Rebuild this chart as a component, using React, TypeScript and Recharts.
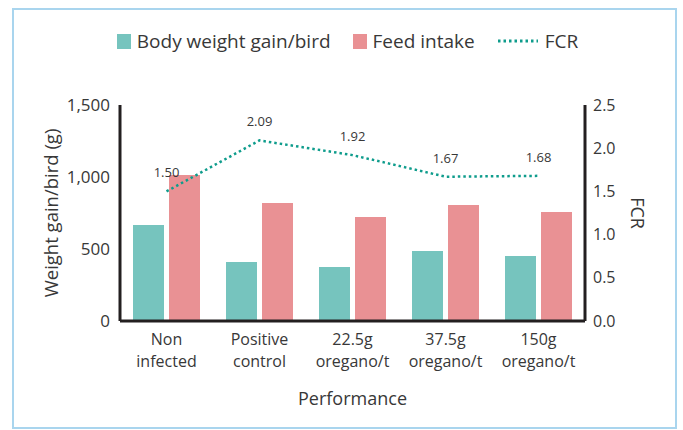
import { Bar, ComposedChart, LabelList, Legend, Line, XAxis, YAxis } from "recharts";

const categories = [
  "Non\ninfected",
  "Positive\ncontrol",
  "22.5g\noregano/t",
  "37.5g\noregano/t",
  "150g\noregano/t",
];
const bodyWeightGain = [667, 410, 375, 486, 451];
const feedIntake = [1014, 819, 722, 806, 757];
const fcr = [1.5, 2.09, 1.92, 1.67, 1.68];
const weightTicks = [0, 500, 1000, 1500];
const fcrTicks = [0, 0.5, 1, 1.5, 2, 2.5];
const legendOrder = ["Body weight gain/bird", "Feed intake", "FCR"];

const data = categories.map((name, i) => ({
  name,
  gain: bodyWeightGain[i],
  feed: feedIntake[i],
  fcr: fcr[i],
}));

const FONT = "'Open Sans', sans-serif";
const TEXT = "#383838";
const AXIS = "#231f20";
const TEAL = "#76c4be";
const PINK = "#e99194";
const LINE = "#0e9c8c";

const CategoryTick = ({ x, y, payload }: any) => {
  const lines = String(payload.value).split("\n");
  return (
    <text x={x} y={y} textAnchor="middle" fill={TEXT} fontSize={16} fontFamily={FONT}>
      {lines.map((l, i) => (
        <tspan key={i} x={x} dy={i === 0 ? 16 : 22}>
          {l}
        </tspan>
      ))}
    </text>
  );
};

const LegendContent = ({ payload }: any) => {
  const items = [...(payload || [])].sort(
    (a: any, b: any) => legendOrder.indexOf(a.value) - legendOrder.indexOf(b.value)
  );
  return (
    <div
      style={{
        display: "flex",
        justifyContent: "center",
        alignItems: "center",
        gap: 22,
        fontFamily: FONT,
        fontSize: 19,
        color: TEXT,
      }}
    >
      {items.map((entry: any) => (
        <div key={entry.value} style={{ display: "flex", alignItems: "center", gap: 6 }}>
          {entry.type === "line" ? (
            <svg width={42} height={6}>
              <line x1={1} y1={3} x2={41} y2={3} stroke={entry.color} strokeWidth={3} strokeDasharray="2.5 3" />
            </svg>
          ) : (
            <span style={{ display: "inline-block", width: 14, height: 15, background: entry.color }} />
          )}
          <span>{entry.value}</span>
        </div>
      ))}
    </div>
  );
};

const App = () => (
  <div style={{ position: "absolute", left: 0, top: 0, width: 683, height: 430, background: "#fff" }}>
    <div
      style={{
        position: "absolute",
        left: 12,
        top: 8,
        width: 665,
        height: 421,
        border: "2px solid #a9d5ee",
        boxSizing: "border-box",
      }}
    />
    <ComposedChart
      width={683}
      height={430}
      data={data}
      margin={{ top: 105, right: 38, bottom: 39, left: 0 }}
      barGap={5}
      style={{ position: "absolute", left: 0, top: 0, fontFamily: FONT }}
    >
      <XAxis
        dataKey="name"
        height={70}
        tickLine={false}
        axisLine={{ stroke: AXIS, strokeWidth: 3 }}
        tick={<CategoryTick />}
        interval={0}
        label={{
          content: ({ viewBox }: any) => (
            <text
              x={viewBox.x + viewBox.width / 2}
              y={viewBox.y + 77}
              textAnchor="middle"
              dominantBaseline="central"
              fill={TEXT}
              fontSize={18}
              fontFamily={FONT}
            >
              Performance
            </text>
          ),
        }}
      />
      <YAxis
        yAxisId="left"
        width={120}
        domain={[0, 1500]}
        ticks={weightTicks}
        tickLine={false}
        tickMargin={4}
        axisLine={{ stroke: AXIS, strokeWidth: 3 }}
        tick={{ fill: TEXT, fontSize: 17, fontFamily: FONT }}
        tickFormatter={(v: number) => v.toLocaleString("en-US")}
        label={{
          content: ({ viewBox }: any) => {
            const cx = viewBox.x + 50;
            const cy = viewBox.y + viewBox.height / 2;
            return (
              <text
                x={cx}
                y={cy}
                transform={`rotate(-90 ${cx} ${cy})`}
                textAnchor="middle"
                dominantBaseline="central"
                fill={TEXT}
                fontSize={18.5}
                fontFamily={FONT}
              >
                Weight gain/bird (g)
              </text>
            );
          },
        }}
      />
      <YAxis
        yAxisId="right"
        orientation="right"
        width={60}
        domain={[0, 2.5]}
        ticks={fcrTicks}
        tickLine={false}
        tickMargin={2}
        axisLine={{ stroke: AXIS, strokeWidth: 3 }}
        tick={{ fill: TEXT, fontSize: 16, fontFamily: FONT }}
        tickFormatter={(v: number) => v.toFixed(1)}
        label={{
          content: ({ viewBox }: any) => {
            const cx = viewBox.x + 53;
            const cy = viewBox.y + viewBox.height / 2;
            return (
              <text
                x={cx}
                y={cy}
                transform={`rotate(90 ${cx} ${cy})`}
                textAnchor="middle"
                dominantBaseline="central"
                fill={TEXT}
                fontSize={18}
                fontFamily={FONT}
              >
                FCR
              </text>
            );
          },
        }}
      />
      <Legend
        verticalAlign="middle"
        align="center"
        layout="horizontal"
        content={<LegendContent />}
        wrapperStyle={{ top: 28, left: 6, width: 683, height: 26 }}
      />
      <Bar yAxisId="left" dataKey="gain" name="Body weight gain/bird" fill={TEAL} barSize={31} isAnimationActive={false} />
      <Bar yAxisId="left" dataKey="feed" name="Feed intake" fill={PINK} barSize={31} isAnimationActive={false} />
      <Line
        yAxisId="right"
        type="linear"
        dataKey="fcr"
        name="FCR"
        stroke={LINE}
        strokeWidth={2.5}
        strokeDasharray="2.5 3"
        dot={false}
        activeDot={false}
        isAnimationActive={false}
      >
        <LabelList
          dataKey="fcr"
          position="top"
          offset={14}
          fill={TEXT}
          fontSize={13}
          fontFamily={FONT}
          formatter={(v: any) => Number(v).toFixed(2)}
        />
      </Line>
    </ComposedChart>
  </div>
);

export default App;
